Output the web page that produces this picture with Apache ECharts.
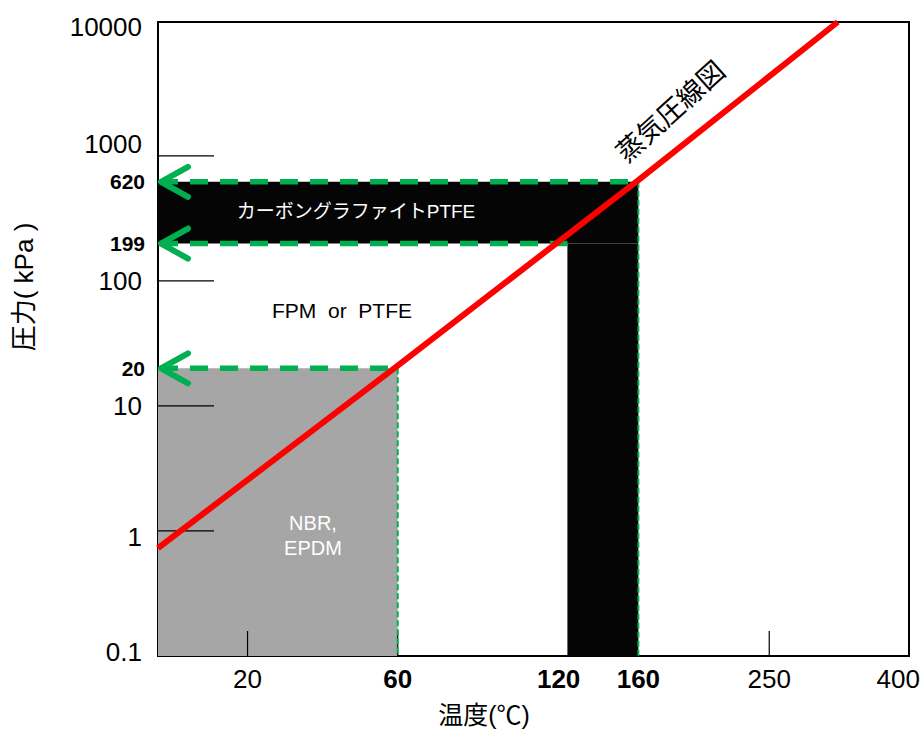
<!DOCTYPE html>
<html><head><meta charset="utf-8">
<script src="https://cdn.jsdelivr.net/npm/echarts@6/dist/echarts.min.js"></script>
<style>html,body{margin:0;padding:0;background:#fff}#c{width:923px;height:731px}</style>
</head><body><div id="c"></div>
<script>
// ---- data ----
const xLabelTemps = [20, 60, 120, 160, 250, 400];
const xTickTemps = [20, 60, 250];
const boldTemps = [60, 120, 160];
const yTickValues = [1, 10, 100, 1000];
const axisTempMin = 1;
const axisTempMax = 407;
const axisPressMin = 0.1;
const axisPressMax = 11760;
// vapour pressure line (°C, kPa)
const vaporTemps = [1, 60, 160, 316];
const vaporPress = [0.73, 21, 640, 11760];
// material zones
const zoneTFrom = [0, 0, 124];
const zoneTTo = [60, 160, 160];
const zonePLow = [0.1, 199, 0.1];
const zonePHigh = [20, 620, 199];
// guide arrows
const guidePress = [620, 199, 20];
const guideTemps = [160, 124, 60];
const guideDrop = [1, 0, 1];

// ---- styles ----
const zoneFill = ['#A6A6A6', '#050505', '#050505'];
const FONT = "'Liberation Sans', Arial, 'Noto Sans CJK JP', sans-serif";
const GREEN = '#00B050';

// Antoine-type temperature scale
const toV = t => -1000 / (t + 230);
const fromV = v => -1000 / v - 230;

const chart = echarts.init(document.getElementById('c'), null, {renderer: 'svg'});

const labelShift = {'10000': -4, '1000': -12, '1': 6, '0.1': -4};
const yRich = {};
Object.keys(labelShift).forEach((k, i) => {
  const s = labelShift[k];
  yRich['s' + i] = {fontSize: 26, fontFamily: FONT, color: '#000',
    padding: s < 0 ? [0, 0, -2 * s, 0] : [2 * s, 0, 0, 0]};
});

function renderZone(params, api) {
  const a = api.coord([api.value(0), api.value(3)]);
  const b = api.coord([api.value(1), api.value(2)]);
  const cs = params.coordSys;
  const shape = echarts.graphic.clipRectByRect(
    {x: a[0], y: a[1], width: b[0] - a[0], height: b[1] - a[1]},
    {x: cs.x, y: cs.y, width: cs.width, height: cs.height});
  return shape && {type: 'rect', shape: shape, style: {fill: zoneFill[params.dataIndex]}};
}

function renderGuide(params, api) {
  const end = api.coord([api.value(0), api.value(1)]);
  const cs = params.coordSys;
  const lx = cs.x, y = end[1];
  const children = [
    {type: 'line', shape: {x1: lx + 2, y1: y, x2: end[0], y2: y},
     style: {stroke: GREEN, lineWidth: 5.5, lineDash: [18, 12]}},
    {type: 'polyline', shape: {points: [[lx + 30, y - 15], [lx + 3, y], [lx + 30, y + 15]]},
     style: {stroke: GREEN, lineWidth: 6, lineCap: 'round', lineJoin: 'round', fill: null}},
    {type: 'text', style: {x: lx - 13, y: y, text: String(api.value(1)), align: 'right',
      verticalAlign: 'middle', font: 'bold 21px ' + FONT, fill: '#000'}}
  ];
  if (api.value(2)) {
    children.push({type: 'line', shape: {x1: end[0], y1: y, x2: end[0], y2: cs.y + cs.height},
      style: {stroke: GREEN, lineWidth: 2, lineDash: [6, 3]}});
  }
  return {type: 'group', children: children};
}

function renderYTick(params, api) {
  const p = api.coord([api.value(0), api.value(1)]);
  const cs = params.coordSys;
  return {type: 'line', shape: {x1: cs.x, y1: p[1], x2: cs.x + 56, y2: p[1]},
    style: {stroke: '#000', lineWidth: 1.2}};
}
function renderXTick(params, api) {
  const p = api.coord([api.value(0), api.value(1)]);
  const cs = params.coordSys;
  const yb = cs.y + cs.height;
  return {type: 'line', shape: {x1: p[0], y1: yb, x2: p[0], y2: yb - 25},
    style: {stroke: '#000', lineWidth: 1.2}};
}

const option = {
  backgroundColor: '#fff',
  animation: false,
  grid: {left: 158, right: 14, top: 22, bottom: 75, show: true, borderColor: '#000',
    borderWidth: 2, backgroundColor: 'transparent', containLabel: false, outerBoundsMode: 'none'},
  xAxis: {
    type: 'value', min: toV(axisTempMin), max: toV(axisTempMax),
    axisLine: {show: true, lineStyle: {color: '#000', width: 2}},
    axisTick: {show: false}, splitLine: {show: false},
    axisLabel: {
      customValues: xLabelTemps.map(toV), margin: 10, color: '#000',
      formatter: v => {
        const t = Math.round(fromV(v));
        if (t === xLabelTemps[xLabelTemps.length - 1]) return '{e|' + t + '}';
        return (boldTemps.indexOf(t) >= 0 ? '{b|' : '{n|') + t + '}';
      },
      rich: {
        b: {fontSize: 26, fontWeight: 'bold', fontFamily: FONT, color: '#000'},
        n: {fontSize: 26, fontFamily: FONT, color: '#000'},
        e: {fontSize: 26, fontFamily: FONT, color: '#000', padding: [0, 12, 0, 0]}
      }
    },
    name: '温度(℃)', nameLocation: 'middle', nameGap: 46,
    nameTextStyle: {fontSize: 25, fontFamily: FONT, color: '#000', padding: [0, 99, 0, 0]}
  },
  yAxis: {
    type: 'log', logBase: 10, min: axisPressMin, max: axisPressMax,
    axisLine: {show: true, lineStyle: {color: '#000', width: 2}},
    axisTick: {show: false}, splitLine: {show: false},
    axisLabel: {
      margin: 16, fontSize: 26, fontFamily: FONT, color: '#000',
      formatter: v => {
        const s = String(+v.toPrecision(6));
        const keys = Object.keys(labelShift);
        const i = keys.indexOf(s);
        return i >= 0 ? '{s' + i + '|' + s + '}' : s;
      },
      rich: yRich
    },
    name: '圧力( kPa )', nameLocation: 'middle', nameGap: 121, nameRotate: 90,
    nameTextStyle: {fontSize: 26, fontFamily: FONT, color: '#000', padding: [0, 0, 0, 104]}
  },
  series: [
    {type: 'custom', name: 'zones', z: 1, clip: true, renderItem: renderZone,
     encode: {x: [0, 1], y: [2, 3]},
     data: zoneTFrom.map((t, i) => [toV(t), toV(zoneTTo[i]), zonePLow[i], zonePHigh[i]])},
    {type: 'custom', name: 'yticks', z: 2, renderItem: renderYTick, encode: {x: 0, y: 1},
     data: yTickValues.map(p => [toV(axisTempMin), p])},
    {type: 'custom', name: 'xticks', z: 2, renderItem: renderXTick, encode: {x: 0, y: 1},
     data: xTickTemps.map(t => [toV(t), axisPressMin])},
    {type: 'custom', name: 'guides', z: 3, clip: false, renderItem: renderGuide,
     encode: {x: 0, y: 1},
     data: guidePress.map((p, i) => [toV(guideTemps[i]), p, guideDrop[i]])},
    {type: 'line', name: '蒸気圧線図', z: 4, symbol: 'none', clip: true,
     lineStyle: {color: '#FF0000', width: 6},
     data: vaporTemps.map((t, i) => [toV(t), vaporPress[i]])}
  ],
  graphic: [
    {type: 'text', z: 10, x: 356, y: 211, style: {text: 'カーボングラファイトPTFE', fill: '#fff',
      font: '19px ' + FONT, align: 'center', verticalAlign: 'middle'}},
    {type: 'text', z: 10, x: 342, y: 310, style: {text: 'FPM  or  PTFE', fill: '#000',
      font: '21px ' + FONT, align: 'center', verticalAlign: 'middle'}},
    {type: 'text', z: 10, x: 313, y: 535, style: {text: 'NBR,\nEPDM', fill: '#fff',
      font: '20px ' + FONT, lineHeight: 25, align: 'center', verticalAlign: 'middle'}},
    {type: 'text', z: 10, x: 671, y: 112, rotation: 42 * Math.PI / 180,
     style: {text: '蒸気圧線図', fill: '#000', font: '27px ' + FONT,
      align: 'center', verticalAlign: 'middle'}}
  ]
};
chart.setOption(option);
</script></body></html>
